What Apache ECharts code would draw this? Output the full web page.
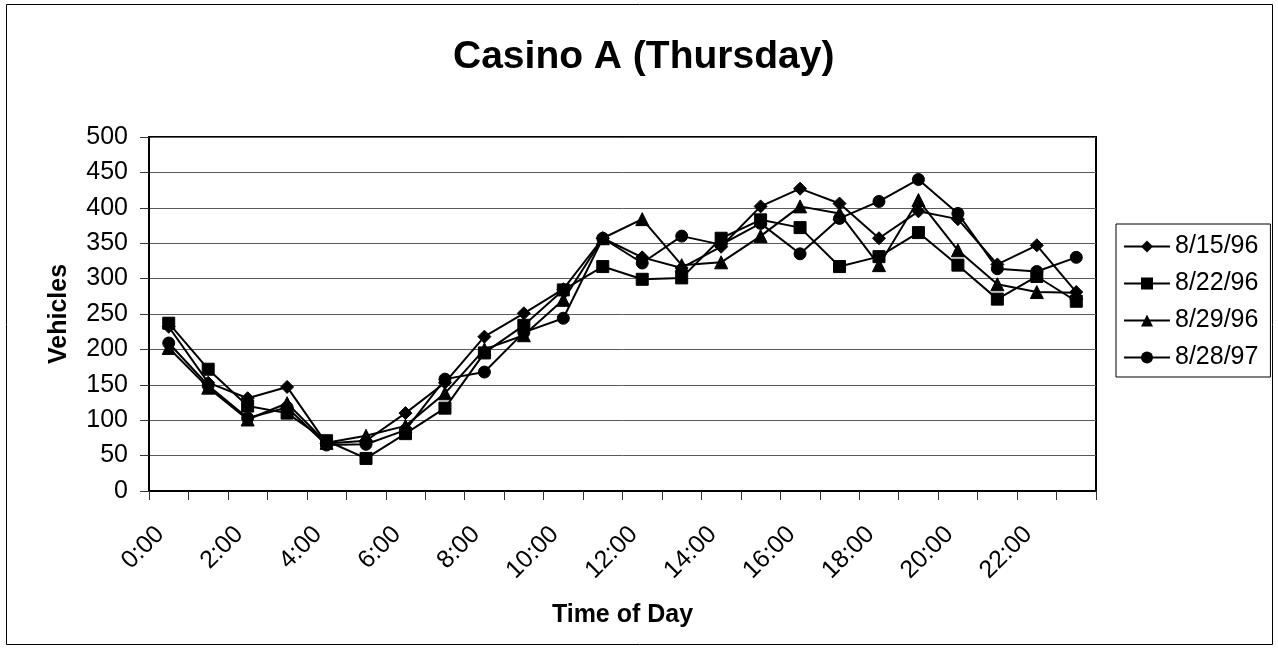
<!DOCTYPE html>
<html>
<head>
<meta charset="utf-8">
<script src="https://cdn.jsdelivr.net/npm/echarts@6/dist/echarts.min.js"></script>
<style>
  html, body { margin: 0; padding: 0; background: #fff; }
  #chart { width: 1278px; height: 648px; }
</style>
</head>
<body>
<div id="chart"></div>
<script>
// Hourly vehicle counts, Casino A, Thursdays
const hours = ['0:00','1:00','2:00','3:00','4:00','5:00','6:00','7:00','8:00','9:00','10:00','11:00',
               '12:00','13:00','14:00','15:00','16:00','17:00','18:00','19:00','20:00','21:00','22:00','23:00'];
const yTicks = [0, 50, 100, 150, 200, 250, 300, 350, 400, 450, 500];

const aug15_96 = [232, 153, 131, 147, 67, 71, 110, 153, 218, 251, 285, 357, 330, 315, 345, 402, 427, 406, 357, 395, 384, 320, 347, 281];
const aug22_96 = [237, 172, 120, 110, 71, 46, 81, 117, 195, 234, 284, 317, 299, 301, 357, 383, 372, 317, 331, 365, 319, 271, 303, 268];
const aug29_96 = [202, 146, 101, 124, 68, 78, 92, 138, 200, 220, 270, 357, 384, 319, 323, 360, 402, 392, 319, 411, 340, 292, 281, 280];
const aug28_97 = [209, 149, 103, 118, 65, 66, 86, 158, 168, 224, 244, 357, 322, 360, 348, 378, 335, 385, 409, 440, 392, 314, 310, 330];

const seriesNames = ['8/15/96', '8/22/96', '8/29/96', '8/28/97'];
const seriesData = [aug15_96, aug22_96, aug29_96, aug28_97];
const seriesSymbols = ['diamond', 'rect', 'triangle', 'circle'];
const seriesSymbolSizes = [13, 12, 13, 12];

const FONT = '"Liberation Sans", Arial, sans-serif';

const chart = echarts.init(document.getElementById('chart'), null, { renderer: 'canvas' });

chart.setOption({
  animation: false,
  backgroundColor: '#fff',
  textStyle: { fontFamily: FONT, color: '#000' },
  title: {
    text: 'Casino A (Thursday)',
    left: 448,
    top: 33,
    textStyle: { fontFamily: FONT, fontSize: 39, fontWeight: 'bold', color: '#000' }
  },
  graphic: [{
    type: 'rect',
    shape: { x: 6.5, y: 4.5, width: 1266, height: 640 },
    style: { fill: 'none', stroke: '#000', lineWidth: 1 },
    silent: true
  }],
  legend: {
    orient: 'vertical',
    left: 1116,
    top: 224,
    padding: [10, 12, 7, 7],
    itemWidth: 46,
    itemHeight: 15,
    itemGap: 12,
    borderColor: '#000',
    borderWidth: 1,
    backgroundColor: '#fff',
    textStyle: { fontFamily: FONT, fontSize: 25, color: '#000' },
    data: seriesNames
  },
  grid: {
    left: 149,
    right: 182,
    top: 137,
    bottom: 157,
    show: true,
    borderColor: '#000',
    borderWidth: 2,
    backgroundColor: '#fff'
  },
  xAxis: {
    type: 'category',
    data: hours,
    boundaryGap: true,
    name: 'Time of Day',
    nameLocation: 'middle',
    nameGap: 112,
    nameTextStyle: { fontFamily: FONT, fontSize: 25, fontWeight: 'bold', color: '#000' },
    axisLine: { lineStyle: { color: '#000', width: 2 } },
    axisTick: { show: true, interval: 0, length: 9, lineStyle: { color: '#333', width: 1 } },
    axisLabel: {
      interval: 1,
      rotate: 45,
      margin: 31,
      padding: [0, 12, 0, 0],
      fontFamily: FONT,
      fontSize: 25,
      color: '#000'
    },
    splitLine: { show: false }
  },
  yAxis: {
    type: 'value',
    min: yTicks[0],
    max: yTicks[yTicks.length - 1],
    interval: 50,
    name: 'Vehicles',
    nameLocation: 'middle',
    nameGap: 77,
    nameTextStyle: { fontFamily: FONT, fontSize: 25, fontWeight: 'bold', color: '#000' },
    axisLine: { show: true, lineStyle: { color: '#000', width: 2 } },
    axisTick: { show: true, length: 9, lineStyle: { color: '#333', width: 1 } },
    axisLabel: { margin: 21, fontFamily: FONT, fontSize: 25, color: '#000' },
    splitLine: { show: true, lineStyle: { color: '#5a5a5a', width: 1 } }
  },
  series: seriesNames.map((name, i) => ({
    name: name,
    type: 'line',
    data: seriesData[i],
    symbol: seriesSymbols[i],
    symbolSize: seriesSymbolSizes[i],
    showAllSymbol: true,
    lineStyle: { color: '#000', width: 2 },
    itemStyle: { color: '#000', borderColor: '#000' },
    emphasis: { disabled: true }
  }))
});
</script>
</body>
</html>
